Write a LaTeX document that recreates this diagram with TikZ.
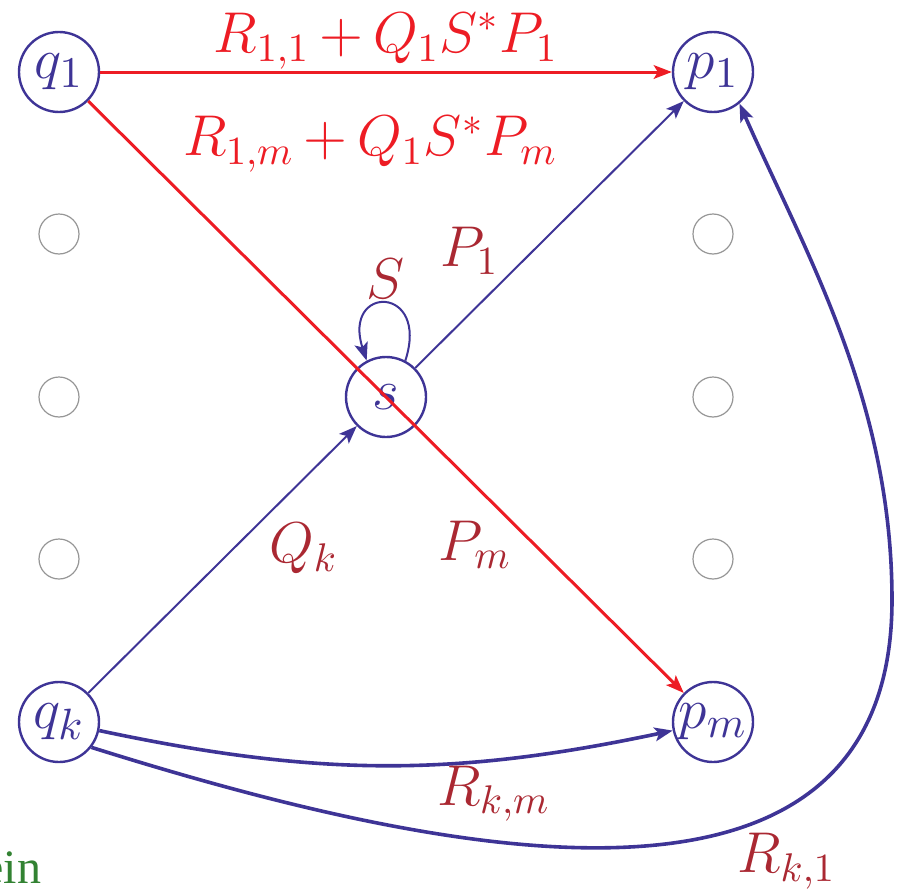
\documentclass[tikz,border=0pt]{standalone}
\usepackage{fontspec}
\newfontfamily\serifT{Liberation Serif}
\usetikzlibrary{arrows.meta}
\definecolor{stblue}{RGB}{62, 52, 150}
\definecolor{edgered}{RGB}{237, 28, 36}
\definecolor{labred}{RGB}{170, 40, 50}
\definecolor{txtgreen}{RGB}{50, 130, 50}
\definecolor{dotgray}{RGB}{150,150,150}
\tikzset{
  % Holatlar (tugunlar)
  state/.style    = {circle, draw=stblue, line width=0.6pt, minimum size=20pt,
                     inner sep=0pt, text=stblue, font=\fontsize{15}{18}\selectfont},
  ghost/.style    = {circle, draw=dotgray, line width=0.3pt, minimum size=10pt, inner sep=0pt},
  % O'tishlar
  bluearr/.style  = {-{Stealth[length=4.5pt,width=3.4pt,inset=1pt]}, draw=stblue, line width=0.5pt},
  bluecurve/.style= {bluearr, line width=0.9pt},
  redarr/.style   = {-{Stealth[length=4.5pt,width=3.4pt,inset=1pt]}, draw=edgered, line width=0.75pt},
  % Yozuvlar
  lab/.style      = {font=\fontsize{14.2}{17}\selectfont, text=labred, inner sep=1pt},
  redlab/.style   = {font=\fontsize{14}{17}\selectfont, text=edgered, inner sep=1pt,
                     execute at begin node={\medmuskip=3mu}},
}
\begin{document}
\begin{tikzpicture}[x=0.25pt, y=0.25pt]
  \useasboundingbox (0,0) rectangle (901,892);
  % Holatlar
  \node[state] (q1) at (59,820) {$q_1$};
  \node[state] (p1) at (713,820) {$p_1$};
  \node[state] (s)  at (386,495) {$s$};
  \node[state] (qk) at (59,170) {$q_k$};
  \node[state] (pm) at (713,170) {$p_m$};
  % bo'sh holatlar
  \foreach \y [count=\i] in {658,495,333} {
    \node[ghost] (gl\i) at (59,\y) {};
    \node[ghost] (gr\i) at (713,\y) {};
  }
  % s orqali o'tishlar
  \draw[bluearr] (qk) -- (s) node[lab, pos=0.64, anchor=north west, xshift=1pt, yshift=1pt] {$Q_k$};
  \draw[bluearr] (s) -- (p1) node[lab, pos=0.33, above left] {$P_1$};
  \draw[bluearr] (s.62) to[out=72,in=108,distance=20pt] node[lab, above=0pt] {$S$} (s.118);
  % yangi (qizil) o'tishlar
  \draw[redarr] (q1) -- (p1) node[redlab, midway, above=-0.6pt] {$R_{1,1} + Q_1 S^* P_1$};
  \draw[redarr] (q1) -- (pm)
    node[redlab, pos=0.14, above right=1.5pt] {$R_{1,m} + Q_1 S^* P_m$}
    node[lab, pos=0.71, below left=-1.5pt] {$P_m$};
  % to'g'ridan-to'g'ri o'tishlar
  \draw[bluecurve] (qk) to[bend right=12] node[lab, pos=0.7, below=0pt] {$R_{k,m}$} (pm);
  \draw[bluecurve] (qk.-38) .. controls (450,32) and (892,-58) .. (892,292)
    node[lab, pos=0.7, below=5pt] {$R_{k,1}$}
    .. controls (892,492) and (805,640) .. (p1.-50);
  \node[font=\serifT\fontsize{12}{14}\selectfont, text=txtgreen, inner sep=0pt,
        anchor=base east] (ein) at (42,9) {ein};
\end{tikzpicture}
\end{document}
